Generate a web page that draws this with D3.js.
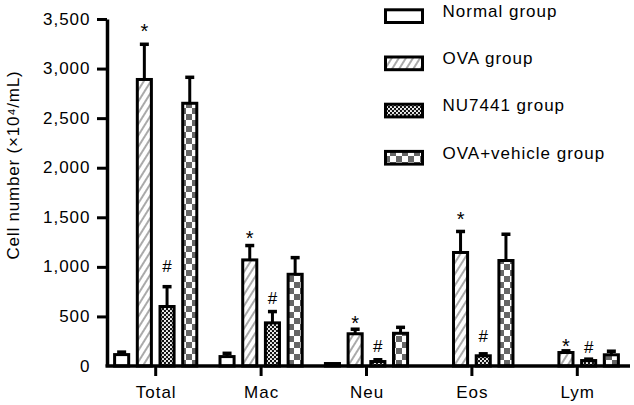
<!DOCTYPE html>
<html><head><meta charset="utf-8">
<script src="https://cdn.jsdelivr.net/npm/d3@7"></script>
<style>
body{margin:0;background:#fff}
text{font-family:"Liberation Sans",Arial,Helvetica,sans-serif;fill:#000}
</style>
</head><body><svg id="c" width="634" height="405"></svg>
<script>
// ---- data ----
const categories = ["Total", "Mac", "Neu", "Eos", "Lym"];
const groups = ["Normal group", "OVA group", "NU7441 group", "OVA+vehicle group"];
const normalMean = [115, 95, 25, 0, 3];
const normalErr  = [25, 33, 0, 0, 0];
const ovaMean    = [2890, 1070, 325, 1145, 136];
const ovaErr     = [355, 145, 46, 212, 17];
const nuMean     = [600, 435, 45, 103, 55];
const nuErr      = [200, 114, 18, 20, 14];
const vehMean    = [2650, 925, 330, 1064, 113];
const vehErr     = [262, 168, 60, 265, 36];
const ovaMarks   = ["*", "*", "*", "*", "*"];
const ovaMarkAt  = [3389, 1304, 444, 1493, 212];
const nuMarks    = ["#", "#", "#", "#", "#"];
const nuMarkAt   = [951, 625, 141, 245, 134];
const yTicks     = [0, 500, 1000, 1500, 2000, 2500, 3000, 3500];
const yLabel     = "Cell number (×10⁴/mL)";

const means = [normalMean, ovaMean, nuMean, vehMean];
const errs  = [normalErr, ovaErr, nuErr, vehErr];

// ---- setup ----
const svg = d3.select("#c");
const defs = svg.append("defs");
const FS = 17;
const LS = "1px";

// patterns
defs.append("pattern").attr("id", "p0").attr("patternUnits", "userSpaceOnUse")
  .attr("width", 4).attr("height", 4)
  .append("rect").attr("width", 4).attr("height", 4).attr("fill", "#fff");

const p1 = defs.append("pattern").attr("id", "p1").attr("patternUnits", "userSpaceOnUse")
  .attr("width", 6).attr("height", 6).attr("patternTransform", "rotate(32)");
p1.append("rect").attr("width", 6).attr("height", 6).attr("fill", "#fff");
p1.append("line").attr("x1", 3).attr("x2", 3).attr("y1", -1).attr("y2", 7)
  .attr("stroke", "#555").attr("stroke-width", 1);

const p2 = defs.append("pattern").attr("id", "p2").attr("patternUnits", "userSpaceOnUse")
  .attr("width", 4).attr("height", 4);
p2.append("rect").attr("width", 4).attr("height", 4).attr("fill", "#111");
p2.append("circle").attr("cx", 1).attr("cy", 1).attr("r", 1.1).attr("fill", "#fff");
p2.append("circle").attr("cx", 3).attr("cy", 3).attr("r", 1.1).attr("fill", "#fff");

const p3 = defs.append("pattern").attr("id", "p3").attr("patternUnits", "userSpaceOnUse")
  .attr("width", 12).attr("height", 12);
p3.append("rect").attr("width", 12).attr("height", 12).attr("fill", "#fff");
p3.append("rect").attr("width", 6).attr("height", 6).attr("fill", "#666");
p3.append("rect").attr("x", 6).attr("y", 6).attr("width", 6).attr("height", 6).attr("fill", "#666");

const fills = ["url(#p0)", "url(#p1)", "url(#p2)", "url(#p3)"];

// scales
const y = d3.scaleLinear().domain([0, 3500]).range([366, 19]);
const x = d3.scaleBand().domain(categories).range([103, 630]);
const xs = d3.scaleBand().domain(groups).range([-45.4, 45.4]).paddingInner(0.38).paddingOuter(0.19);
const cx = c => x(c) + x.bandwidth() / 2;

// y axis
const ya = svg.append("g").attr("transform", "translate(107,0)")
  .call(d3.axisLeft(y).tickValues(yTicks).tickFormat(d3.format(",")).tickSize(10).tickSizeOuter(0));
ya.select(".domain").attr("stroke", "#000").attr("stroke-width", 3.5);
ya.selectAll(".tick line").attr("stroke", "#000").attr("stroke-width", 3);
ya.selectAll(".tick text").attr("x", -16.5).attr("font-size", FS)
  .style("letter-spacing", LS).attr("fill", "#000").attr("dy", "0.3em")
  .attr("font-family", "'Liberation Sans', Arial, sans-serif");
ya.selectAll(".tick").filter(d => d === 0).select("line").remove();

// y label
svg.append("text")
  .attr("transform", "translate(19,165) rotate(-90)")
  .attr("text-anchor", "middle").attr("font-size", FS)
  .style("letter-spacing", "0.8px")
  .text(yLabel);

// bars
const bars = svg.append("g");
groups.forEach((g, gi) => {
  categories.forEach((c, ci) => {
    const v = means[gi][ci];
    if (v <= 0) return;
    const bx = cx(c) + xs(g);
    const h = y(0) - y(v);
    const e = errs[gi][ci];
    const mx = bx + xs.bandwidth() / 2;
    if (e > 0) {
      bars.append("line").attr("x1", mx).attr("x2", mx)
        .attr("y1", y(v)).attr("y2", y(v + e))
        .attr("stroke", "#000").attr("stroke-width", 3);
      bars.append("line").attr("x1", mx - 4.5).attr("x2", mx + 4.5)
        .attr("y1", y(v + e)).attr("y2", y(v + e))
        .attr("stroke", "#000").attr("stroke-width", 3.5);
    }
    bars.append("rect").attr("x", bx).attr("y", y(v))
      .attr("width", xs.bandwidth()).attr("height", h)
      .attr("fill", fills[gi]).attr("stroke", h < 2 ? "#999" : "#000")
      .attr("stroke-width", h < 2 ? 1 : 3);
  });
});

// annotations
const ann = svg.append("g").attr("text-anchor", "middle");
categories.forEach((c, ci) => {
  ann.append("text")
    .attr("x", cx(c) + xs(groups[1]) + xs.bandwidth() / 2)
    .attr("y", y(ovaMarkAt[ci])).attr("dy", "0.42em")
    .attr("font-size", 20).text(ovaMarks[ci]);
  ann.append("text")
    .attr("x", cx(c) + xs(groups[2]) + xs.bandwidth() / 2)
    .attr("y", y(nuMarkAt[ci]))
    .attr("font-size", FS).text(nuMarks[ci]);
});

// x axis
const xa = svg.append("g");
xa.append("line").attr("x1", 105.5).attr("x2", 630).attr("y1", y(0)).attr("y2", y(0))
  .attr("stroke", "#000").attr("stroke-width", 3.5);
categories.forEach(c => {
  xa.append("line").attr("x1", cx(c)).attr("x2", cx(c))
    .attr("y1", y(0)).attr("y2", y(0) + 10)
    .attr("stroke", "#000").attr("stroke-width", 3);
  xa.append("text").attr("x", cx(c) + 0.5).attr("y", 398)
    .attr("text-anchor", "middle").attr("font-size", FS)
    .style("letter-spacing", LS).text(c);
});

// legend
const lg = svg.append("g");
groups.forEach((g, gi) => {
  const by = 17 + gi * 47.2;
  lg.append("rect").attr("x", 385.5).attr("y", by - 7.2)
    .attr("width", 37).attr("height", 12.7)
    .attr("fill", fills[gi]).attr("stroke", "#000").attr("stroke-width", 3);
  lg.append("text").attr("x", 442.5).attr("y", by)
    .attr("font-size", FS).style("letter-spacing", LS).text(g);
});
</script>
</body></html>
